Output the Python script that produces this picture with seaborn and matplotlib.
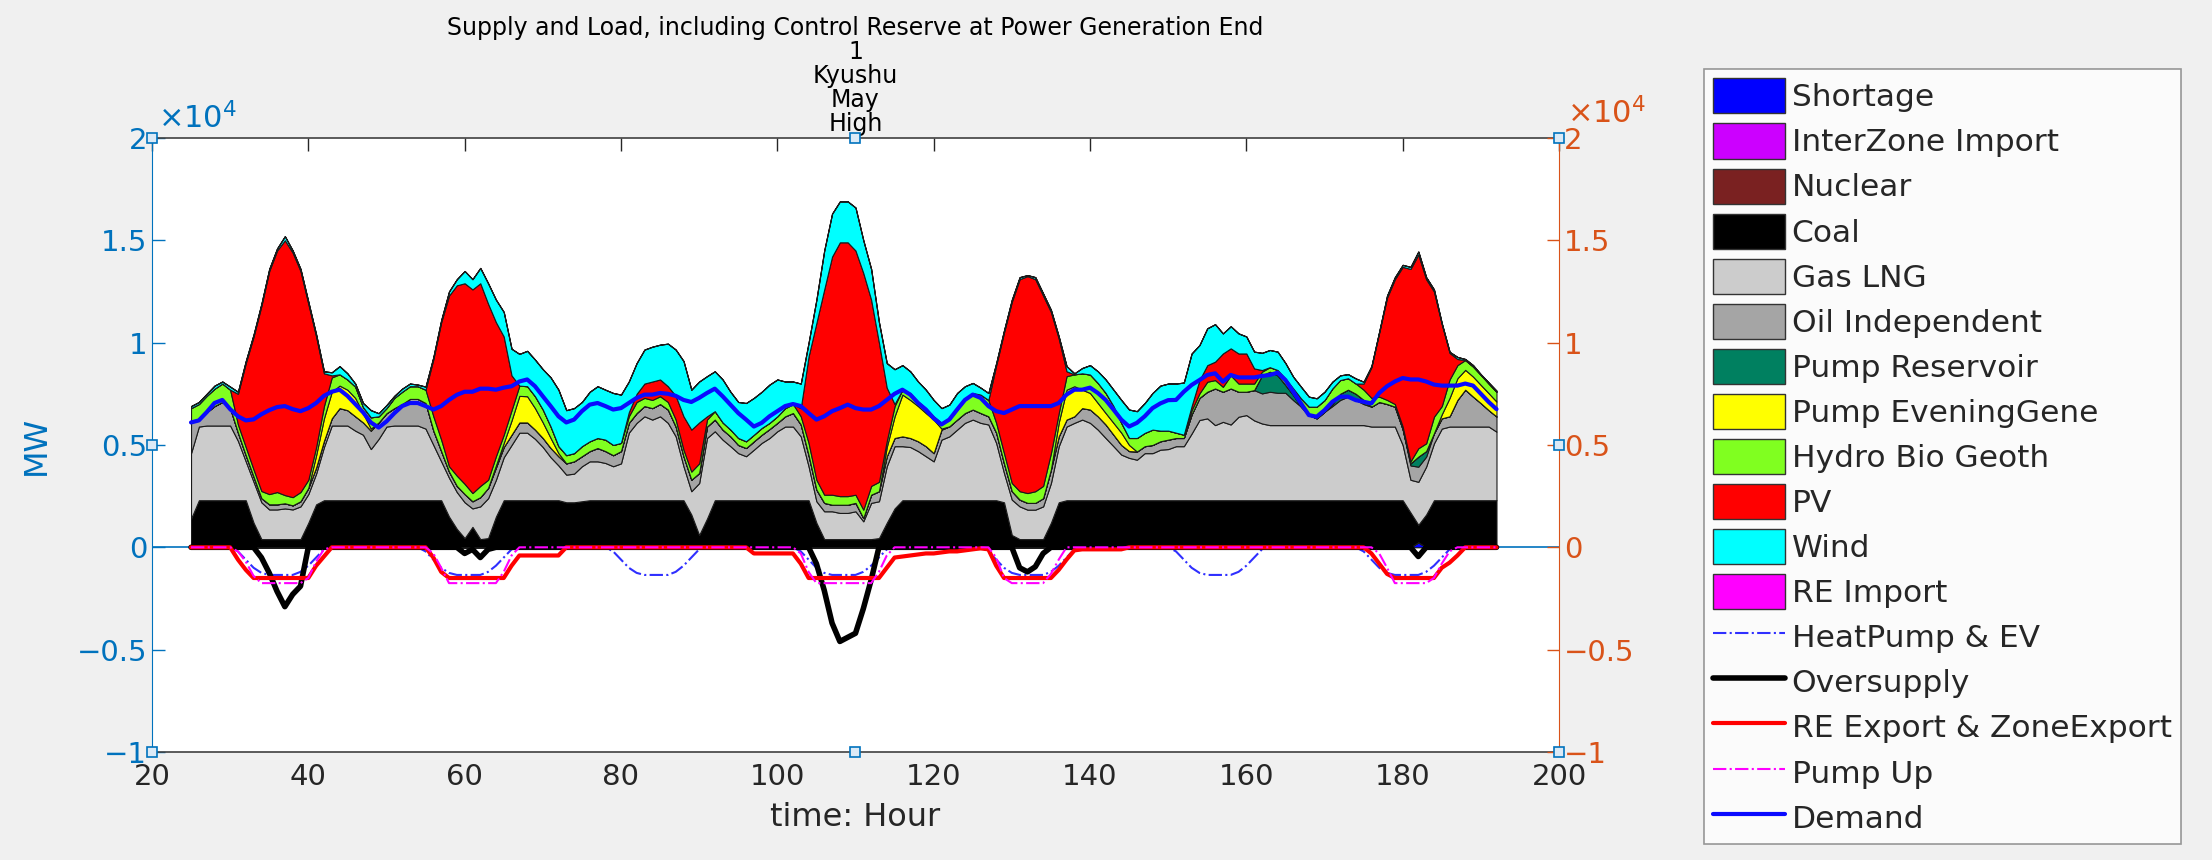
import numpy as np
import matplotlib
matplotlib.use("Agg")
import matplotlib.pyplot as plt
from matplotlib.patches import Patch
from matplotlib.lines import Line2D
import seaborn as sns

# hourly values, hour 25 .. 192 (one row per day)
hours = np.arange(25, 193)

coal = [1400, 2300, 2300, 2300, 2300, 2300, 2300, 2300, 1200, 400, 400, 400, 400, 400, 400, 1200, 2100, 2300, 2300, 2300, 2300, 2300, 2300, 2300,
        2300, 2300, 2300, 2300, 2300, 2300, 2300, 2300, 2300, 1500, 900, 450, 1000, 400, 450, 1500, 2300, 2300, 2300, 2300, 2300, 2300, 2300, 2300,
        2200, 2200, 2250, 2300, 2300, 2300, 2300, 2300, 2300, 2300, 2300, 2300, 2300, 2300, 2300, 2300, 1600, 600, 1400, 2300, 2300, 2300, 2300, 2300,
        2300, 2300, 2300, 2300, 2300, 2300, 2300, 2300, 1200, 400, 400, 400, 400, 400, 400, 400, 450, 1200, 1900, 2300, 2300, 2300, 2300, 2300,
        2300, 2300, 2300, 2300, 2300, 2300, 2300, 2300, 2200, 600, 400, 400, 400, 400, 1200, 2200, 2300, 2300, 2300, 2300, 2300, 2300, 2300, 2300,
        2300, 2300, 2300, 2300, 2300, 2300, 2300, 2300, 2300, 2300, 2300, 2300, 2300, 2300, 2300, 2300, 2300, 2300, 2300, 2300, 2300, 2300, 2300, 2300,
        2300, 2300, 2300, 2300, 2300, 2300, 2300, 2300, 2300, 2300, 2300, 2300, 1700, 850, 1600, 2300, 2300, 2300, 2300, 2300, 2300, 2300, 2300, 2300]

gas = [3200, 3600, 3650, 3650, 3650, 3650, 2900, 1900, 2000, 1800, 1450, 1450, 1500, 1450, 1600, 1400, 1500, 2600, 3650, 3650, 3650, 3400, 3200, 2500,
       3000, 3600, 3650, 3650, 3650, 3650, 3500, 2700, 1900, 1900, 1800, 1750, 900, 1600, 1950, 1800, 2100, 2700, 3300, 3300, 3000, 2600, 2100, 1700,
       1350, 1400, 1710, 1900, 1900, 1820, 1660, 1800, 3300, 3780, 4100, 3940, 4100, 3780, 3120, 1660, 1140, 2540, 3940, 3370, 2960, 2640, 2300, 2150,
       2470, 2800, 3040, 3370, 3600, 3600, 3120, 1660, 1050, 1360, 1360, 1280, 1280, 1360, 870, 1770, 1800, 2760, 3040, 2640, 2600, 2400, 2150, 1900,
       2960, 3120, 3450, 3780, 3940, 3780, 3700, 2800, 1430, 1730, 1600, 1440, 1440, 1600, 1940, 2740, 3600, 3780, 3940, 3780, 3450, 3040, 2640, 2230,
       2070, 1980, 2300, 2300, 2470, 2500, 2640, 2640, 3260, 3920, 4000, 3670, 3830, 3700, 4080, 4160, 3900, 3750, 3670, 3670, 3670, 3670, 3670, 3670,
       3670, 3670, 3670, 3670, 3670, 3670, 3670, 3600, 3600, 3600, 3600, 2700, 1600, 2100, 2340, 2780, 3500, 3600, 3600, 3600, 3600, 3600, 3600, 3350]

oil = [1500, 400, 650, 950, 1150, 850, 400, 300, 250, 200, 250, 250, 250, 200, 250, 300, 300, 300, 350, 850, 750, 700, 600, 900,
       800, 650, 850, 1050, 1300, 1300, 1250, 700, 500, 300, 300, 400, 350, 450, 500, 600, 500, 500, 500, 500, 450, 440, 450, 450,
       550, 600, 490, 500, 650, 580, 540, 600, 480, 480, 500, 560, 600, 650, 480, 490, 560, 490, 560, 570, 490, 480, 400, 400,
       410, 400, 440, 410, 500, 660, 580, 540, 570, 410, 320, 400, 400, 410, 160, 400, 490, 490, 400, 480, 440, 480, 490, 400,
       490, 490, 490, 480, 490, 480, 400, 500, 470, 410, 330, 330, 330, 400, 660, 480, 340, 320, 560, 650, 650, 660, 560, 470,
       330, 400, 340, 400, 410, 460, 400, 400, 940, 1080, 1300, 1790, 1470, 1760, 1220, 1140, 1480, 1470, 1630, 1580, 1580, 1220, 900, 490,
       330, 650, 930, 1230, 1390, 1230, 1030, 970, 1200, 1100, 970, 770, 700, 740, 490, 490, 500, 500, 1300, 1800, 1460, 1140, 800, 740]

pump_reservoir = [0] * 24 * 5 + \
    [0] * 17 + [880, 980, 850, 380, 250, 0, 0] + \
    [0, 0, 100, 300, 340, 300, 200, 0, 0, 0, 0, 0, 100, 490, 270, 0, 0, 0, 0, 0, 0, 0, 0, 0]

pump_evening = [0] * 16 + [600, 1100, 1300, 1100, 1000, 900, 450, 100] + \
    [0] * 15 + [100, 200, 700, 1300, 1280, 1050, 760, 490, 150] + \
    [0] * 24 + \
    [0] * 17 + [450, 1060, 2040, 1860, 1720, 1620, 1640] + \
    [50] + [0] * 14 + [680, 1460, 1470, 900, 810, 650, 560, 580, 600] + \
    [300] + [0] * 23 + \
    [0] * 16 + [200, 900, 1060, 970, 980, 890, 830, 730]

hydro = [700, 700, 800, 850, 900, 900, 400, 400, 350, 350, 500, 600, 400, 400, 450, 400, 400, 600, 700, 550, 500, 550, 300, 550,
         300, 250, 500, 600, 620, 620, 650, 700, 560, 260, 500, 500, 400, 550, 400, 450, 400, 500, 500, 490, 580, 630, 560, 340,
         400, 400, 490, 480, 490, 560, 500, 400, 320, 540, 400, 400, 380, 370, 340, 320, 400, 470, 340, 410, 350, 330, 340, 330,
         320, 330, 300, 320, 400, 440, 400, 600, 480, 400, 490, 420, 420, 400, 410, 430, 460, 300, 500, 240, 340, 230, 240, 160,
         280, 330, 490, 640, 810, 900, 800, 480, 500, 400, 410, 480, 570, 600, 800, 460, 660, 580, 800, 900, 980, 980, 820, 480,
         340, 660, 650, 750, 520, 440, 260, 160, 200, 220, 490, 410, 240, 640, 400, 400, 320, 180, 220, 260, 320, 320, 400, 410,
         570, 570, 760, 670, 560, 500, 500, 430, 260, 200, 130, 130, 100, 410, 380, 810, 400, 900, 640, 480, 490, 490, 470, 480]

pv = [0] * 6 + [1500, 4100, 6500, 9050, 10900, 11800, 12450, 11950, 10800, 8600, 5400, 1600, 100] + [0] * 5 + \
    [0] * 7 + [2800, 5740, 8340, 9300, 9800, 9950, 9900, 8600, 6550, 4800, 1700] + [0] * 6 + \
    [0] * 8 + [200, 400, 700, 900, 820, 770, 1160, 1630, 2050, 2000, 160] + [0] * 5 + \
    [0] * 6 + [400, 4230, 7660, 10030, 11630, 12400, 12400, 11930, 11560, 9100, 6800, 2600, 100] + [0] * 5 + \
    [0] * 7 + [2820, 5900, 8860, 10360, 10600, 10360, 9300, 6900, 3640, 240] + [0] * 7 + \
    [0] * 8 + [200, 650, 810, 900, 1630, 1320, 1470, 1470, 740, 80] + [0] * 6 + \
    [0] * 6 + [300, 1500, 3140, 5000, 6100, 7800, 9400, 9460, 8020, 6120, 4000, 1300, 300] + [0] * 5

wind = [100, 100, 100, 150, 100, 150, 100, 100, 100, 100, 100, 100, 200, 100, 100, 100, 100, 100, 150, 400, 300, 150, 200, 350,
        150, 150, 100, 150, 130, 80, 150, 100, 100, 200, 300, 600, 500, 750, 1000, 1100, 1200, 1300, 1550, 1730, 1790, 1970, 2400, 2760,
        2200, 2200, 2160, 2420, 2530, 2440, 2540, 2360, 1500, 1500, 1660, 1700, 1700, 2080, 2260, 2700, 1950, 2000, 1960, 1950, 2100, 1850, 1760, 1870,
        1800, 1770, 1870, 1800, 1300, 1100, 1200, 670, 1140, 1900, 2100, 2000, 2000, 2100, 1600, 1500, 1000, 1200, 1700, 1200, 1060, 970, 900, 800,
        720, 730, 810, 670, 490, 340, 340, 100, 100, 100, 100, 50, 100, 100, 100, 100, 250, 50, 260, 460, 570, 660, 800, 1120,
        1390, 1310, 1460, 1790, 2200, 2300, 2400, 2550, 2570, 1710, 1800, 1830, 980, 1080, 980, 830, 820, 840, 840, 900, 750, 570, 570, 490,
        410, 410, 330, 230, 200, 250, 90, 50, 50, 100, 100, 100, 100, 150, 100, 100, 50, 50, 100, 50, 70, 30, 50, 50]

shortage = [0] * 157 + [250] + [0] * 10
interzone_import = [0] * 168
nuclear = [0] * 168
re_import = [0] * 168

demand = [6100, 6200, 6600, 7050, 7200, 6750, 6400, 6200, 6250, 6500, 6700, 6850, 6900, 6750, 6650, 6800, 7050, 7400, 7600, 7700, 7400, 7000, 6600, 6100,
          5850, 6150, 6550, 6900, 7050, 7050, 6900, 6730, 6900, 7200, 7450, 7600, 7600, 7750, 7750, 7700, 7800, 7870, 8100, 8200, 7870, 7380, 6900, 6400,
          6100, 6240, 6650, 6970, 7050, 6900, 6730, 6800, 7050, 7300, 7460, 7460, 7540, 7500, 7400, 7200, 7100, 7300, 7540, 7750, 7380, 6970, 6560, 6240,
          5900, 6080, 6400, 6650, 6900, 7000, 6900, 6560, 6240, 6400, 6650, 6800, 6970, 6800, 6730, 6730, 6900, 7200, 7500, 7700, 7460, 7050, 6730, 6300,
          6000, 6240, 6730, 7200, 7460, 7300, 6900, 6650, 6560, 6730, 6900, 6900, 6900, 6900, 6900, 7050, 7460, 7700, 7700, 7800, 7540, 7200, 6730, 6240,
          5900, 6080, 6400, 6800, 7030, 7190, 7200, 7600, 7930, 8170, 8420, 8500, 8090, 8420, 8300, 8300, 8300, 8370, 8420, 8530, 8170, 7600, 7030, 6460,
          6380, 6700, 7110, 7360, 7360, 7190, 7110, 7030, 7540, 7870, 8100, 8270, 8200, 8200, 8100, 7950, 7900, 7900, 7900, 8000, 7900, 7500, 7100, 6750]

heatpump_ev = ([0] * 6 + [-200, -600, -1000, -1250, -1350, -1350, -1350, -1350, -1200, -900, -500, -100] + [0] * 6) * 7

oversupply = [0] * 9 + [-500, -1250, -2150, -2900, -2300, -1900] + [0] * 9 + \
    [0] * 11 + [-300, -100, -500, -100] + [0] * 9 + \
    [0] * 24 + \
    [0] * 8 + [-800, -2100, -3700, -4600, -4400, -4200, -3000, -1600] + [0] * 8 + \
    [0] * 10 + [-1000, -1200, -950, -300] + [0] * 10 + \
    [0] * 24 + \
    [0] * 13 + [-450] + [0] * 10

re_export = [0] * 6 + [-600, -1100] + [-1500] * 8 + [-900, -450] + [0] * 6 + \
    [0] * 7 + [-500, -1200] + [-1500] * 8 + [-900] + [-400] * 6 + \
    [0] * 24 + \
    [-300] * 6 + [-800] + [-1500] * 10 + [-1000, -500, -450, -400, -350, -300, -300] + \
    [-250, -200, -200, -150, -100, -50, -100, -900] + [-1500] * 7 + [-1100, -600, -150] + [-100] * 6 + \
    [0] * 24 + \
    [0] * 7 + [-300, -800, -1300] + [-1500] * 6 + [-1000, -750, -400] + [0] * 5

pump_up = [0] * 6 + [-200, -700, -1400] + [-1750] * 6 + [-1500, -700, -100] + [0] * 6 + \
    [0] * 7 + [-300, -1000] + [-1750] * 7 + [-1200, -400] + [0] * 6 + \
    [0] * 24 + \
    [0] * 6 + [-300, -1200] + [-1750] * 8 + [-1200, -400] + [0] * 6 + \
    [0] * 7 + [-500, -1500] + [-1750] * 5 + [-1300, -600] + [0] * 8 + \
    [0] * 24 + \
    [0] * 8 + [-300, -1000] + [-1750] * 5 + [-1500, -800, -200] + [0] * 6

area_names = ["Shortage", "InterZone Import", "Nuclear", "Coal", "Gas LNG", "Oil Independent",
              "Pump Reservoir", "Pump EveningGene", "Hydro Bio Geoth", "PV", "Wind", "RE Import"]
area_values = [shortage, interzone_import, nuclear, coal, gas, oil,
               pump_reservoir, pump_evening, hydro, pv, wind, re_import]
area_colors = ["#0000FF", "#CC00FF", "#7A2121", "#000000", "#CCCCCC", "#A5A5A5",
               "#008060", "#FFFF00", "#80FF20", "#FF0000", "#00FFFF", "#FF00FF"]

for name, vals in zip(area_names, area_values):
    if len(vals) != len(hours):
        raise ValueError(f"{name}: {len(vals)} values")
for vals in (demand, heatpump_ev, oversupply, re_export, pump_up):
    if len(vals) != len(hours):
        raise ValueError(f"line series: {len(vals)} values")

ytick_vals = [-10000, -5000, 0, 5000, 10000, 15000, 20000]
ytick_labels = ["\u22121", "\u22120.5", "0", "0.5", "1", "1.5", "2"]

BLUE = "#0072BD"
ORANGE = "#D95319"
DARK = "#262626"

sns.set_style("white")
plt.rcParams["font.family"] = ["DejaVu Sans"]

fig = plt.figure(figsize=(22.12, 8.6), dpi=100, facecolor="#F0F0F0")
ax = fig.add_axes([0.0687, 0.1256, 0.6361, 0.714])
ax.set_facecolor("white")

ax.axhline(0, color=BLUE, lw=1.2, zorder=0.5)
ax.stackplot(hours, *[np.array(v) for v in area_values], colors=area_colors,
             edgecolor="#1a1a1a", linewidth=0.8, zorder=1)

sns.lineplot(x=hours, y=heatpump_ev, ax=ax, color="#2F2FFF", lw=1.5, linestyle="-.", zorder=3)
sns.lineplot(x=hours, y=oversupply, ax=ax, color="black", lw=4, zorder=3)
sns.lineplot(x=hours, y=re_export, ax=ax, color="#FF0000", lw=3, zorder=3)
sns.lineplot(x=hours, y=pump_up, ax=ax, color="#FF00FF", lw=1.5, linestyle="-.", zorder=3)
sns.lineplot(x=hours, y=demand, ax=ax, color="#0A0AFF", lw=3, zorder=4)

ax.set_xlim(20, 200)
ax.set_ylim(-10000, 20000)
ax.set_xticks(range(20, 201, 20))
ax.set_yticks(ytick_vals)
ax.set_yticklabels(ytick_labels)
ax.tick_params(axis="x", direction="in", length=9, width=1, top=True, colors=DARK,
               labelsize=21, pad=8)
ax.tick_params(axis="y", direction="in", length=9, width=1, colors=BLUE, labelsize=21)
for side in ("top", "bottom"):
    ax.spines[side].set_color("#404040")
    ax.spines[side].set_linewidth(1.2)
ax.spines["left"].set_color(BLUE)
ax.spines["right"].set_visible(False)

ax2 = ax.twinx()
ax2.set_ylim(-10000, 20000)
ax2.set_yticks(ytick_vals)
ax2.set_yticklabels(ytick_labels)
ax2.tick_params(axis="y", direction="in", length=9, width=1, colors=ORANGE, labelsize=21)
ax2.spines["right"].set_color(ORANGE)
for side in ("top", "bottom", "left"):
    ax2.spines[side].set_visible(False)

ax.set_xlabel("time: Hour", fontsize=23, color=DARK, labelpad=8)
ax.set_ylabel("MW", fontsize=23, color=BLUE, labelpad=18)
ax.set_title("Supply and Load, including Control Reserve at Power Generation End\n1\nKyushu\nMay\nHigh",
             fontsize=17, color="black", pad=5, linespacing=1.0)

ax.text(0.004, 1.006, r"$\times10^{4}$", transform=ax.transAxes, color=BLUE,
        fontsize=22, ha="left", va="bottom")
ax2.text(1.006, 1.014, r"$\times10^{4}$", transform=ax2.transAxes, color=ORANGE,
         fontsize=22, ha="left", va="bottom")

# selection handles at the corners
ax2.plot([20, 110, 200, 20, 200, 20, 110, 200],
         [20000, 20000, 20000, 5000, 5000, -10000, -10000, -10000],
         ls="none", marker="s", ms=7, mfc="#DCEAF6", mec=BLUE, mew=1.2, clip_on=False, zorder=10)

handles = [Patch(facecolor=c, edgecolor="#333333", linewidth=1) for c in area_colors]
handles += [
    Line2D([], [], color="#2F2FFF", lw=1.5, linestyle="-."),
    Line2D([], [], color="black", lw=4),
    Line2D([], [], color="#FF0000", lw=3),
    Line2D([], [], color="#FF00FF", lw=1.5, linestyle="-."),
    Line2D([], [], color="#0A0AFF", lw=3),
]
labels = area_names + ["HeatPump & EV", "Oversupply", "RE Export & ZoneExport", "Pump Up", "Demand"]
leg = fig.legend(handles, labels, loc="upper left", bbox_to_anchor=(1704 / 2212, 1 - 69 / 860),
                 fontsize=22.5, frameon=True, fancybox=False, edgecolor="#7F7F7F",
                 handlelength=2.3, handleheight=1.35, labelspacing=0.32,
                 handletextpad=0.2, borderpad=0.3, borderaxespad=0)
leg.get_frame().set_linewidth(1.2)
leg.get_frame().set_facecolor("white")

fig.savefig("out.png", dpi=100, facecolor=fig.get_facecolor())
